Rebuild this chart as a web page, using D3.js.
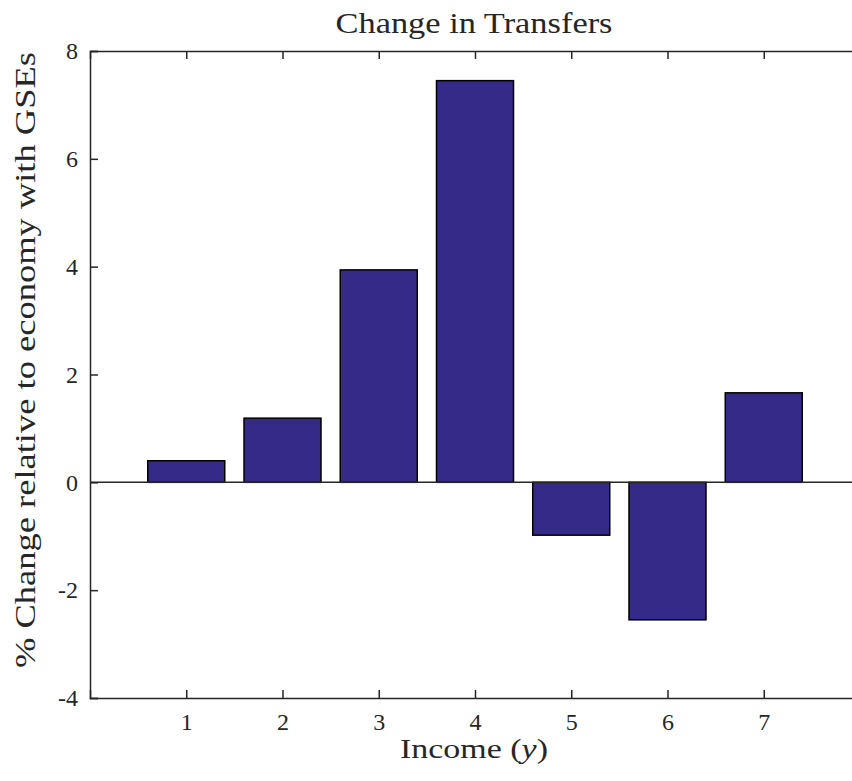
<!DOCTYPE html>
<html><head><meta charset="utf-8">
<script src="https://cdn.jsdelivr.net/npm/d3@7"></script>
<style>body{margin:0;background:#fff}svg{display:block}text{font-family:"Liberation Serif","Times New Roman",serif;fill:#262626}</style>
</head><body><svg id="c" width="852" height="781"></svg>
<script>
const categories = [1,2,3,4,5,6,7];
const values = [0.40, 1.19, 3.94, 7.45, -0.98, -2.55, 1.66];
const yTicks = [-4,-2,0,2,4,6,8];
const title = "Change in Transfers";
const yLabel = "% Change relative to economy with GSEs";

const svg = d3.select("#c");
const L=90, R=860, T=51, B=698;
const x = d3.scaleLinear().domain([0,8]).range([L,R]);
const y = d3.scaleLinear().domain([-4,8]).range([B,T]);
const bw = 0.8;
const ink = "#262626";

svg.append("g").selectAll("rect").data(values).join("rect")
  .attr("x",(d,i)=>x(categories[i]-bw/2))
  .attr("width",x(bw)-x(0))
  .attr("y",d=>y(Math.max(0,d)))
  .attr("height",d=>Math.abs(y(d)-y(0)))
  .attr("fill","#352a87").attr("stroke","#000").attr("stroke-width",1.5);

svg.append("line").attr("x1",L).attr("x2",R).attr("y1",y(0)).attr("y2",y(0))
  .attr("stroke",ink).attr("stroke-width",1.5);

const yAxis = d3.axisLeft(y).tickValues(yTicks).tickSize(-8).tickPadding(12).tickFormat(d=>String(d));
const gy = svg.append("g").attr("transform",`translate(${L},0)`).call(yAxis);
const yAxisR = d3.axisRight(y).tickValues(yTicks).tickSize(-8).tickFormat("");
const gyr = svg.append("g").attr("transform",`translate(${R},0)`).call(yAxisR);
const xAxis = d3.axisBottom(x).tickValues(categories).tickSize(-8).tickPadding(15).tickFormat(d=>String(d));
const gx = svg.append("g").attr("transform",`translate(0,${B})`).call(xAxis);
const xAxisT = d3.axisTop(x).tickValues(categories).tickSize(-8).tickFormat("");
const gxt = svg.append("g").attr("transform",`translate(0,${T})`).call(xAxisT);
[gy,gyr,gx,gxt].forEach(g=>{
  g.attr("font-size",null).attr("font-family",null);
  g.selectAll("path").attr("stroke",ink).attr("stroke-width",1.5);
  g.selectAll("line").attr("stroke",ink).attr("stroke-width",1.5);
  g.selectAll("text").style("font-size","24px").attr("fill",ink);
});

svg.append("text").attr("x",474).attr("y",33).attr("text-anchor","middle")
  .style("font-size","29px").attr("textLength",277).attr("lengthAdjust","spacingAndGlyphs").text(title);
svg.append("text").attr("x",474).attr("y",758).attr("text-anchor","middle")
  .style("font-size","28px").attr("textLength",148).attr("lengthAdjust","spacingAndGlyphs")
  .html('Income (<tspan font-style="italic">y</tspan>)');
svg.append("text").attr("transform",`translate(35,360) rotate(-90)`).attr("text-anchor","middle")
  .style("font-size","29px").attr("textLength",616).attr("lengthAdjust","spacingAndGlyphs").text(yLabel);
</script></body></html>
